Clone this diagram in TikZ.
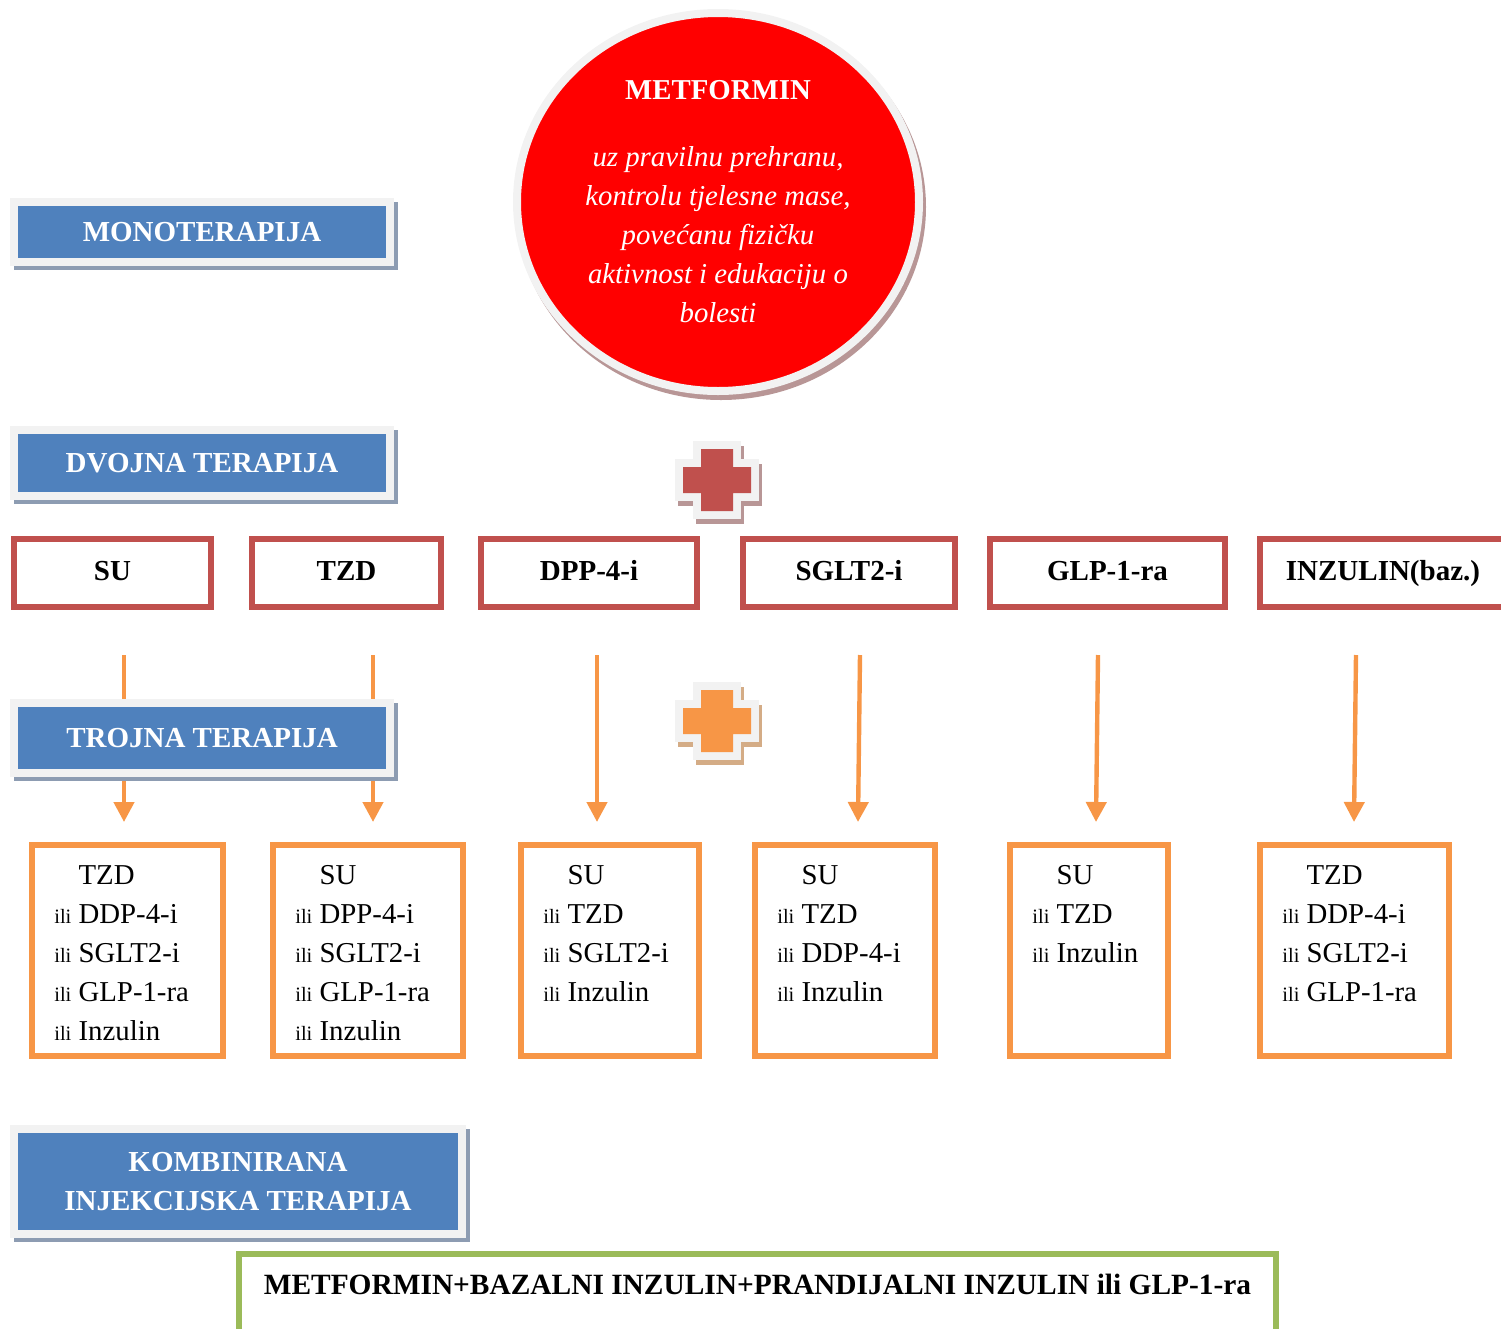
\documentclass[tikz,border=0pt]{standalone}
\usepackage{fontspec}
\setmainfont{Liberation Serif}
\usetikzlibrary{arrows.meta, positioning, shadows, shapes.geometric}
\definecolor{headblue}{RGB}{79, 129, 189}
\definecolor{headframe}{RGB}{242, 242, 242}
\definecolor{headshadow}{RGB}{141, 156, 178}
\definecolor{boxred}{RGB}{192, 80, 77}
\definecolor{boxorange}{RGB}{247, 150, 70}
\definecolor{boxgreen}{RGB}{155, 187, 89}
\definecolor{redshadow}{RGB}{184, 150, 150}
\definecolor{orangeshadow}{RGB}{212, 172, 134}
\newcommand{\ili}{{\fontsize{10.2pt}{12pt}\selectfont ili}\ }
% plus sign: centre x, centre y, colour
\newcommand{\crossmark}[3]{%
  \def\crosspath{(-16,-31) -- (16,-31) -- (16,-13) -- (34,-13) -- (34,13) -- (16,13) -- (16,31) -- (-16,31) -- (-16,13) -- (-34,13) -- (-34,-13) -- (-16,-13) -- cycle}
  \draw[#3shadow, line width=8pt, fill, shift={(#1+3,#2+5)}] \crosspath;
  \draw[headframe, line width=8pt, fill, shift={(#1,#2)}] \crosspath;
  \fill[box#3, shift={(#1,#2)}] \crosspath;
}

\begin{document}
\begin{tikzpicture}[x=0.5pt, y=-0.5pt]%
        \tikzstyle{phase} = [rectangle, fill=headblue, draw=headframe, line width=4pt, text=white, inner sep=0pt, align=center,
          font=\fontsize{14.5pt}{19.5pt}\selectfont\bfseries,
          drop shadow={shadow xshift=2pt, shadow yshift=-2pt, fill=headshadow, draw=headshadow, line width=4pt, opacity=1}]
        \tikzstyle{dual} = [rectangle, draw=boxred, line width=3pt, minimum height=34pt, inner sep=0pt, text height=10pt, text depth=3pt,
          font=\fontsize{14.5pt}{17pt}\selectfont\bfseries]
        \tikzstyle{triple} = [rectangle, draw=boxorange, line width=3pt, minimum height=105.5pt, inner sep=0pt]
        \tikzstyle{choice} = [align=left, inner sep=0pt, font=\fontsize{14.4pt}{19.5pt}\selectfont]
        \tikzstyle{arr} = [-{Triangle[width=10pt, length=10pt]}, boxorange, line width=2.2pt]

        \useasboundingbox (0,0) rectangle (1501,1329);
        \clip (0,0) rectangle (1501,1329);

        % headers
        \node[phase, minimum width=188pt, minimum height=30pt] (mono) at (202,232) {MONOTERAPIJA};
        \node[phase, minimum width=188pt, minimum height=33pt] (dvojna) at (202,463) {DVOJNA TERAPIJA};

        \node[ellipse, minimum width=201pt, minimum height=189pt, inner sep=0pt, fill=red, draw=headframe, line width=4pt,
          text=white, align=center, font=\fontsize{14.4pt}{19.5pt}\selectfont,
          drop shadow={shadow xshift=1.5pt, shadow yshift=-2.5pt, fill=redshadow, draw=redshadow, line width=4pt, opacity=1}]
          (metf) at (718,202) {\textbf{METFORMIN}\\[14pt]
          \textit{uz pravilnu prehranu,}\\
          \textit{kontrolu tjelesne mase,}\\
          \textit{povećanu fizičku}\\
          \textit{aktivnost i edukaciju o}\\
          \textit{bolesti}};

        \crossmark{717}{480}{red}

        \foreach \nm/\x/\w/\txt in {su/112.5/98.5/SU, tzd/346.5/94.5/TZD, dpp/589/108/DPP-4-i,
          sglt/849/106/SGLT2-i, glp/1107.5/117.5/GLP-1-ra, inz/1383/123/INZULIN(baz.)}{
          \node[dual, minimum width=\w pt] (\nm) at (\x,573) {\txt};
        }

        \foreach \i/\xa/\xb in {1/124/124, 2/373/373, 3/597/597, 4/860/858, 5/1098/1096, 6/1356/1354}{
          \coordinate (s\i) at (\xa,655);
          \coordinate (e\i) at (\xb,822);
          \draw[arr] (s\i) -- (e\i);
        }

        \node[phase, minimum width=188pt, minimum height=35pt] (trojna) at (202,738) {TROJNA TERAPIJA};

        \crossmark{717}{721}{orange}

        \foreach \nm/\x/\w in {t1/127.5/95.5, t2/368/95, t3/609.75/88.75, t4/844.75/89.75, t5/1089/79, t6/1354.5/94.5}{
          \node[triple, minimum width=\w pt] (\nm) at (\x,950.5) {};
        }

        \node[choice, below right=11.75pt and 12.5pt of t1.north west] (l1) {\phantom{\ili}TZD\\ \ili DDP-4-i\\ \ili SGLT2-i\\ \ili GLP-1-ra\\ \ili Inzulin};
        \node[choice, below right=11.75pt and 12.5pt of t2.north west] (l2) {\phantom{\ili}SU\\ \ili DPP-4-i\\ \ili SGLT2-i\\ \ili GLP-1-ra\\ \ili Inzulin};
        \node[choice, below right=11.75pt and 12.5pt of t3.north west] (l3) {\phantom{\ili}SU\\ \ili TZD\\ \ili SGLT2-i\\ \ili Inzulin};
        \node[choice, below right=11.75pt and 12.5pt of t4.north west] (l4) {\phantom{\ili}SU\\ \ili TZD\\ \ili DDP-4-i\\ \ili Inzulin};
        \node[choice, below right=11.75pt and 12.5pt of t5.north west] (l5) {\phantom{\ili}SU\\ \ili TZD\\ \ili Inzulin};
        \node[choice, below right=11.75pt and 12.5pt of t6.north west] (l6) {\phantom{\ili}TZD\\ \ili DDP-4-i\\ \ili SGLT2-i\\ \ili GLP-1-ra};

        \node[phase, minimum width=224pt, minimum height=52.5pt] (komb) at (238,1181.5) {KOMBINIRANA\\INJEKCIJSKA TERAPIJA};

        \node[rectangle, draw=boxgreen, line width=3pt, minimum width=518.5pt, inner sep=0pt, text height=20pt, text depth=25pt,
          font=\fontsize{14.7pt}{17pt}\selectfont\bfseries, anchor=base]
          (injek) at (757.5,1294) {METFORMIN+BAZALNI INZULIN+PRANDIJALNI INZULIN ili GLP-1-ra};
      \end{tikzpicture}
\end{document}
